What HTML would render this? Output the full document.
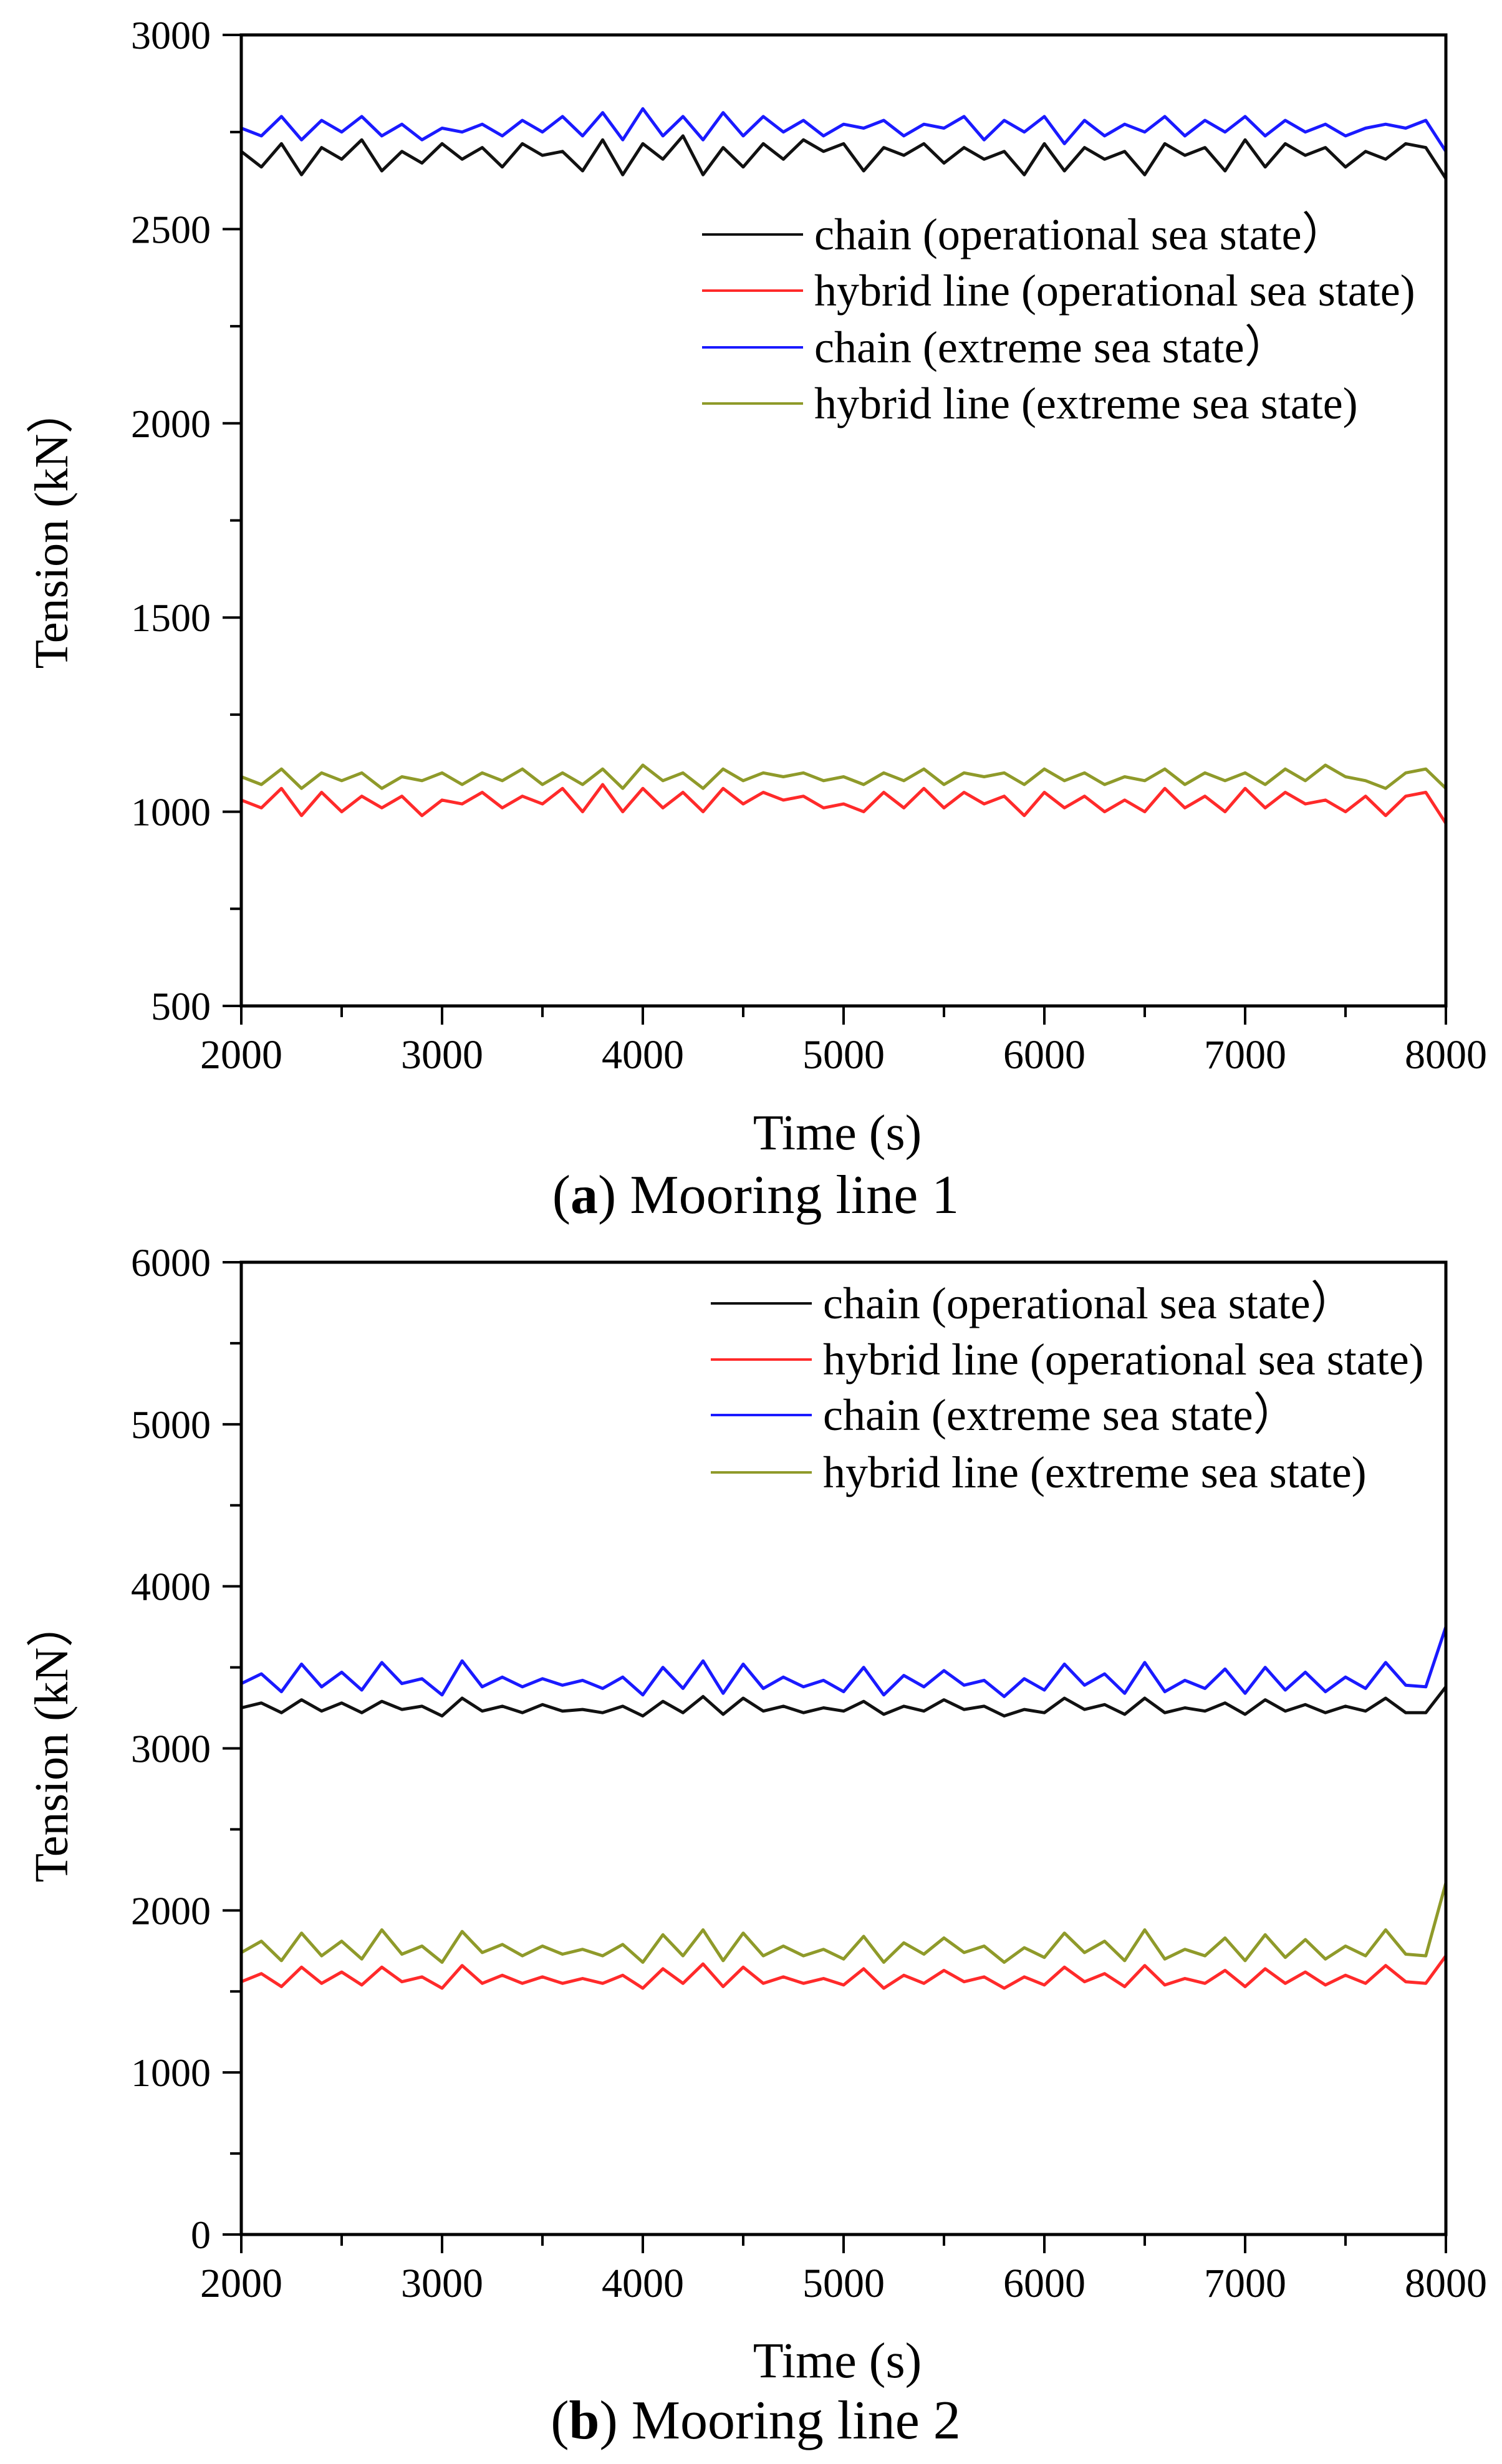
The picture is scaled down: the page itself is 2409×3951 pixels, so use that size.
<!DOCTYPE html>
<html><head><meta charset="utf-8"><style>
html,body{margin:0;padding:0;background:#fff;}
svg{display:block;font-family:"Liberation Serif",serif;}
</style></head><body>
<svg id="fig" width="2409" height="3951" viewBox="0 0 2409 3951" xmlns="http://www.w3.org/2000/svg"></svg>
<script>
const timeStart = 2000, timeStep = 100;
const aChainOp = [2700,2660,2720,2640,2710,2680,2730,2650,2700,2670,2720,2680,2710,2660,2720,2690,2700,2650,2730,2640,2720,2680,2740,2640,2710,2660,2720,2680,2730,2700,2720,2650,2710,2690,2720,2670,2710,2680,2700,2640,2720,2650,2710,2680,2700,2640,2720,2690,2710,2650,2730,2660,2720,2690,2710,2660,2700,2680,2720,2710,2630];
const aChainEx = [2760,2740,2790,2730,2780,2750,2790,2740,2770,2730,2760,2750,2770,2740,2780,2750,2790,2740,2800,2730,2810,2740,2790,2730,2800,2740,2790,2750,2780,2740,2770,2760,2780,2740,2770,2760,2790,2730,2780,2750,2790,2720,2780,2740,2770,2750,2790,2740,2780,2750,2790,2740,2780,2750,2770,2740,2760,2770,2760,2780,2700];
const aHybridEx = [1090,1070,1110,1060,1100,1080,1100,1060,1090,1080,1100,1070,1100,1080,1110,1070,1100,1070,1110,1060,1120,1080,1100,1060,1110,1080,1100,1090,1100,1080,1090,1070,1100,1080,1110,1070,1100,1090,1100,1070,1110,1080,1100,1070,1090,1080,1110,1070,1100,1080,1100,1070,1110,1080,1120,1090,1080,1060,1100,1110,1060];
const aHybridOp = [1030,1010,1060,990,1050,1000,1040,1010,1040,990,1030,1020,1050,1010,1040,1020,1060,1000,1070,1000,1060,1010,1050,1000,1060,1020,1050,1030,1040,1010,1020,1000,1050,1010,1060,1010,1050,1020,1040,990,1050,1010,1040,1000,1030,1000,1060,1010,1040,1000,1060,1010,1050,1020,1030,1000,1040,990,1040,1050,970];
const bChainOp = [3250,3280,3220,3300,3230,3280,3220,3290,3240,3260,3200,3310,3230,3260,3220,3270,3230,3240,3220,3260,3200,3290,3220,3320,3210,3310,3230,3260,3220,3250,3230,3290,3210,3260,3230,3300,3240,3260,3200,3240,3220,3310,3240,3270,3210,3310,3220,3250,3230,3280,3210,3300,3230,3270,3220,3260,3230,3310,3220,3220,3380];
const bChainEx = [3400,3460,3350,3520,3380,3470,3360,3530,3400,3430,3330,3540,3380,3440,3380,3430,3390,3420,3370,3440,3330,3500,3370,3540,3340,3520,3370,3440,3380,3420,3350,3500,3330,3450,3380,3480,3390,3420,3320,3430,3360,3520,3390,3460,3340,3530,3350,3420,3370,3490,3340,3500,3360,3470,3350,3440,3370,3530,3390,3380,3750];
const bHybridEx = [1740,1810,1690,1860,1720,1810,1700,1880,1730,1780,1680,1870,1740,1790,1720,1780,1730,1760,1720,1790,1680,1850,1720,1880,1690,1860,1720,1780,1720,1760,1700,1840,1680,1800,1730,1830,1740,1780,1680,1770,1710,1860,1740,1810,1690,1880,1700,1760,1720,1830,1690,1850,1710,1820,1700,1780,1720,1880,1730,1720,2170];
const bHybridOp = [1560,1610,1530,1650,1550,1620,1540,1650,1560,1590,1520,1660,1550,1600,1550,1590,1550,1580,1550,1600,1520,1640,1550,1670,1530,1650,1550,1590,1550,1580,1540,1640,1520,1600,1550,1630,1560,1590,1520,1590,1540,1650,1560,1610,1530,1660,1540,1580,1550,1630,1530,1640,1550,1620,1540,1600,1550,1660,1560,1550,1720];
const xTicks = [2000,3000,4000,5000,6000,7000,8000];
const aYTicks = [500,1000,1500,2000,2500,3000];
const bYTicks = [0,1000,2000,3000,4000,5000,6000];
const legendLabels = ["chain (operational  sea state\uFF09","hybrid line (operational sea state)","chain (extreme sea state\uFF09","hybrid line (extreme sea state)"];
const colors = ["#111111","#ff2a2a","#1a1aff","#8f9a2a"];

const NS="http://www.w3.org/2000/svg";
const svg=document.getElementById('fig');
function mk(tag,attrs,parent){const e=document.createElementNS(NS,tag);for(const k in attrs)e.setAttribute(k,attrs[k]);(parent||svg).appendChild(e);return e;}

function chart(cfg){
  const g=mk('g',{});
  
  
  const L=387,R=2319,T=cfg.top,B=cfg.bottom;
  const xs=v=>L+(v-2000)/6000*(R-L);
  const ys=v=>B-(v-cfg.ymin)/(cfg.ymax-cfg.ymin)*(B-T);
  const series=[cfg.s[0],cfg.s[1],cfg.s[2],cfg.s[3]];
  const names=['chain-operational-line','hybrid-operational-line','chain-extreme-line','hybrid-extreme-line'];
  series.forEach((arr,i)=>{
    const d=arr.map((v,j)=>(j?'L':'M')+xs(timeStart+j*timeStep).toFixed(1)+' '+ys(v).toFixed(1)).join(' ');
    const p=mk('path',{d:d,fill:'none',stroke:colors[i],'stroke-width':5,'stroke-linejoin':'round'},g);
    
    
  });
  const f=mk('rect',{x:L,y:T,width:R-L,height:B-T,fill:'none',stroke:'#000','stroke-width':5},g);
  
  
  xTicks.forEach(v=>{
    mk('line',{x1:xs(v),x2:xs(v),y1:B,y2:B+30,stroke:'#000','stroke-width':4},g);
    const t=mk('text',{x:xs(v),y:B+100,'font-size':66,'text-anchor':'middle'},g);
    t.textContent=v;
    
    
  });
  for(let v=2500;v<8000;v+=1000) mk('line',{x1:xs(v),x2:xs(v),y1:B,y2:B+18,stroke:'#000','stroke-width':4},g);
  cfg.yt.forEach(v=>{
    mk('line',{x1:L-30,x2:L,y1:ys(v),y2:ys(v),stroke:'#000','stroke-width':4},g);
    const t=mk('text',{x:338,y:ys(v)+22,'font-size':64,'text-anchor':'end'},g);
    t.textContent=v;
    
    
  });
  const half=(cfg.yt[1]-cfg.yt[0])/2;
  for(let v=cfg.ymin+half;v<cfg.ymax;v+=2*half) mk('line',{x1:L-18,x2:L,y1:ys(v),y2:ys(v),stroke:'#000','stroke-width':4},g);
  const yt=mk('text',{x:0,y:0,'font-size':76,'text-anchor':'middle',transform:`translate(108 ${cfg.ytitle}) rotate(-90)`},g);
  yt.textContent='Tension (kN\uFF09';
  
  
  const xt=mk('text',{x:1343,y:cfg.xtitle,'font-size':80,'text-anchor':'middle'},g);
  xt.textContent='Time (s)';
  
  
  const cap=mk('text',{x:1212,y:cfg.cap,'font-size':88,'text-anchor':'middle'},g);
  cap.innerHTML='(<tspan font-weight="bold">'+cfg.letter+'</tspan>) '+cfg.caption;
  
  
  cfg.leg.forEach((y,i)=>{
    const ln=mk('line',{x1:cfg.legX,x2:cfg.legX+162,y1:y,y2:y,stroke:colors[i],'stroke-width':4},g);
    
    
    const t=mk('text',{x:cfg.legX+180,y:y+24,'font-size':72},g);
    t.textContent=legendLabels[i];
    
    
  });
}
chart({name:'chart-mooring-line-1',top:56,bottom:1613,ymin:500,ymax:3000,yt:aYTicks,s:[aChainOp,aHybridOp,aChainEx,aHybridEx],
  ytitle:846,xtitle:1843,cap:1945,letter:'a',caption:'Mooring line 1',legX:1126,leg:[376,466,557,647]});
chart({name:'chart-mooring-line-2',top:2024,bottom:3583,ymin:0,ymax:6000,yt:bYTicks,s:[bChainOp,bHybridOp,bChainEx,bHybridEx],
  ytitle:2792,xtitle:3812,cap:3910,letter:'b',caption:'Mooring line 2',legX:1140,leg:[2090,2180,2269,2361]});
</script>
</body></html>
